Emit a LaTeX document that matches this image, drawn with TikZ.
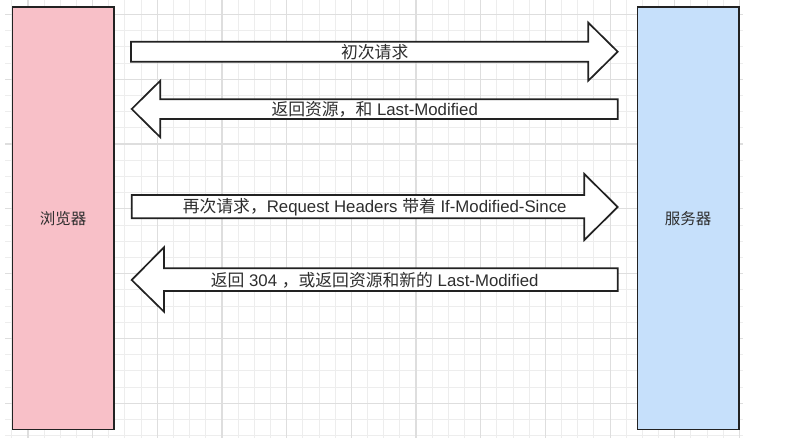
\documentclass[tikz,border=0pt]{standalone}
\usepackage{fontspec}
\setmainfont{Liberation Sans}
\newfontfamily\cjk{Noto Sans CJK SC}
\definecolor{pinkfill}{HTML}{F8C0C8}
\definecolor{bluefill}{HTML}{C6E0FB}
\definecolor{edgecol}{HTML}{222222}
\definecolor{txtcol}{HTML}{2E2E2E}
\definecolor{gminor}{HTML}{EDEDED}
\definecolor{gmajor}{HTML}{DEDEDE}
\begin{document}
\begin{tikzpicture}[x=1pt,y=-1pt,
  minorline/.style={gminor,line width=1pt},
  majorline/.style={gmajor,line width=1.2pt},
  party/.style={draw=edgecol,line width=1.6pt,inner sep=0pt,minimum width=101.7pt,minimum height=422pt,
    font=\cjk\fontsize{15.5}{18}\selectfont,text=txtcol},
  blockarrow/.style={draw=edgecol,fill=white,line width=1.7pt,line join=miter},
  lbl/.style={font=\fontsize{16.8}{20}\selectfont,text=txtcol,inner sep=0pt}]
\useasboundingbox[fill=white] (0,0) rectangle (791,438);
% grid
\foreach \k in {0,...,45} \draw[minorline] ({11.8+16.17*\k},0) -- ({11.8+16.17*\k},438);
\foreach \k in {0,...,26} \draw[minorline] (5,{14.5+16.2*\k}) -- (743,{14.5+16.2*\k});
\foreach \m in {0,...,11} \draw[majorline] ({27.97+64.68*\m},0) -- ({27.97+64.68*\m},438);
\foreach \m in {0,...,6} \draw[majorline] (5,{14.5+64.8*\m}) -- (743,{14.5+64.8*\m});
% parties
\node[party,fill=pinkfill] (browser) at (63.15,218.3) {浏览器};
\node[party,fill=bluefill] (server) at (688.15,218.3) {服务器};
% block arrows
\draw[blockarrow] (131,41.7) -- (588.3,41.7) -- (588.3,22.7) -- (617.7,51.7) -- (588.3,80.7) -- (588.3,61.7) -- (131,61.7) -- cycle;
\draw[blockarrow] (131.7,109) -- (160.3,80.7) -- (160.3,99.3) -- (617.7,99.3) -- (617.7,119) -- (160.3,119) -- (160.3,137.3) -- cycle;
\draw[blockarrow] (131.7,195) -- (584.3,195) -- (584.3,174) -- (617.7,207) -- (584.3,240) -- (584.3,218.3) -- (131.7,218.3) -- cycle;
\draw[blockarrow] (131.7,280) -- (164,247.3) -- (164,268.3) -- (617.7,268.3) -- (617.7,291) -- (164,291) -- (164,311.7) -- cycle;
% labels
\node[lbl] (m1) at (374.7,52.5) {{\cjk 初次请求}};
\node[lbl] (m2) at (374.7,109.5) {{\cjk 返回资源，和} Last-Modified};
\node[lbl] (m3) at (374.7,207.3) {{\cjk 再次请求，}Request Headers {\cjk 带着} If-Modified-Since};
\node[lbl] (m4) at (374.7,280.5) {{\cjk 返回} 304 {\cjk ，或返回资源和新的} Last-Modified};
\end{tikzpicture}
\end{document}
